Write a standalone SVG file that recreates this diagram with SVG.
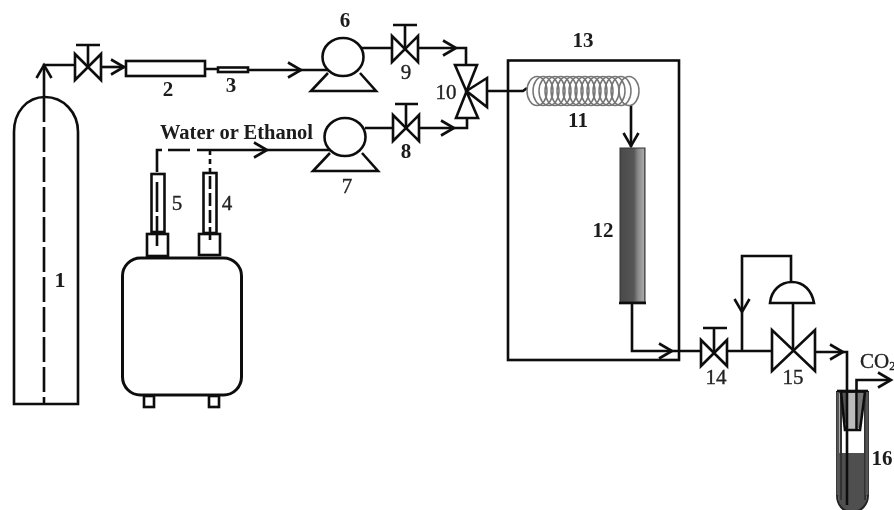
<svg xmlns="http://www.w3.org/2000/svg" width="894" height="510" viewBox="0 0 894 510">
<style>
.l{fill:none;stroke:#111;stroke-width:2.6;stroke-linejoin:miter}
.w{fill:#fff;stroke:#111;stroke-width:2.6}
.d{fill:none;stroke:#111;stroke-width:2.6;stroke-dasharray:25 5}
.a{fill:none;stroke:#111;stroke-width:2.6}
.c{fill:none;stroke:#777;stroke-width:1.5}
text{font-family:"Liberation Serif","Times New Roman",serif;fill:#1a1a1a;font-size:21px;font-weight:bold;text-anchor:middle}
text.r{font-weight:normal;fill:#222;stroke:#222;stroke-width:0.35}
</style>
<defs>
<filter id="b" x="-2%" y="-2%" width="104%" height="104%"><feGaussianBlur stdDeviation="0.45"/></filter>
<linearGradient id="col" x1="0" x2="1" y1="0" y2="0"><stop offset="0" stop-color="#4a4a4a"/><stop offset=".55" stop-color="#555"/><stop offset=".72" stop-color="#888"/><stop offset=".95" stop-color="#a8a8a8"/><stop offset="1" stop-color="#555"/></linearGradient>
<g id="valve"><path class="l" d="M-13 -13V13L13 -13V13Z"/></g>
<g id="pump"><path class="l" d="M-15 16L-32 34H33L17 16"/><ellipse class="w" cx="0" cy="0" rx="20.500" ry="19"/></g>
<path id="arr" class="a" d="M-13 -7.500L0 0L-13 7.500"/>
</defs>
<rect width="894" height="510" fill="#fff"/>
<g filter="url(#b)">
<g id="connectors">
<path class="l" d="M44 97V65H75"/><use href="#arr" transform="translate(44 65) rotate(-90)"/>
<path class="l" d="M101 67H125"/><use href="#arr" transform="translate(124 67)"/>
<path class="l" d="M205 69H218M248 70H329"/><use href="#arr" transform="translate(301 70)"/>
<path class="l" d="M361 48H392M418 48H466V65"/><use href="#arr" transform="translate(456 48)"/>
<path class="l" d="M365 128H393M420 128H467V118"/><use href="#arr" transform="translate(454 128)"/>
<path class="l" d="M487 91H523L527 88"/>
<path class="l" d="M631 105V147"/><use href="#arr" transform="translate(631 146) rotate(90)"/>
<path class="l" d="M632 302V351H700M728 351H772"/><use href="#arr" transform="translate(672 351)"/>
<path class="l" d="M742 351V256H791V282"/><use href="#arr" transform="translate(742 312) rotate(90)"/>
<path class="l" d="M793 303V350"/>
<path class="l" d="M815 352H847V391"/><use href="#arr" transform="translate(843 352)"/>
<path class="l" d="M157 172V150H162"/>
<path class="l" d="M168 150H190M197 150H331"/>
<use href="#arr" transform="translate(267 150)"/>
<path class="l" d="M210 150V172" stroke-dasharray="5 4"/>
</g>
<g id="n1"><path class="l" d="M14 404V132C14 112 27 97 45 97C63 97 78 112 78 132V404Z"/><path class="d" d="M44 97V404"/><text x="60" y="287" style="font-size:22px">1</text></g>
<g id="v-in"><use href="#valve" transform="translate(88 67)"/><path class="l" d="M88 67V45M76 45H100"/></g>
<g id="n2"><rect class="l" x="126" y="61" width="79" height="15"/><text x="168" y="96">2</text></g>
<g id="n3"><rect class="l" x="218" y="67.500" width="30" height="4.500"/><text x="231" y="92">3</text></g>
<g id="n4"><rect class="l" x="203.500" y="173" width="13" height="60"/><path class="d" style="stroke-dasharray:13 4" d="M210 176V244"/><rect class="l" x="199" y="234" width="21" height="21"/><text class="r" x="227" y="210">4</text></g>
<g id="n5"><rect class="l" x="151.500" y="174" width="13" height="58"/><path class="d" style="stroke-dasharray:30 4" d="M157 182V246"/><rect class="l" x="147" y="234" width="21" height="22"/><text class="r" x="177" y="210">5</text></g>
<g id="tank"><rect x="122.500" y="258" width="119" height="137" rx="18" fill="none" stroke="#111" stroke-width="3"/><rect class="l" x="144" y="396" width="10" height="11"/><rect class="l" x="209" y="396" width="10" height="11"/></g>
<g id="n6"><use href="#pump" transform="translate(343 57)"/><text x="345" y="27">6</text></g>
<g id="n7"><use href="#pump" transform="translate(345 137)"/><text class="r" x="347" y="193">7</text></g>
<g id="n8"><use href="#valve" transform="translate(406 128)"/><path class="l" d="M406 128V104M395 104H418"/><text x="406" y="158">8</text></g>
<g id="n9"><use href="#valve" transform="translate(405 49)"/><path class="l" d="M405 49V25M393 25H417"/><text class="r" x="406" y="79">9</text></g>
<g id="n10"><path class="l" d="M455 65H477L456 118H478ZM466.500 91L487 78V107Z"/><text class="r" x="446" y="99">10</text></g>
<g id="n11">
<ellipse class="c" cx="537" cy="91" rx="10" ry="14.500"/><ellipse class="c" cx="543" cy="91" rx="10" ry="14.500"/><ellipse class="c" cx="549" cy="91" rx="10" ry="14.500"/><ellipse class="c" cx="555" cy="91" rx="10" ry="14.500"/><ellipse class="c" cx="561" cy="91" rx="10" ry="14.500"/><ellipse class="c" cx="567" cy="91" rx="10" ry="14.500"/><ellipse class="c" cx="573" cy="91" rx="10" ry="14.500"/><ellipse class="c" cx="579" cy="91" rx="10" ry="14.500"/><ellipse class="c" cx="585" cy="91" rx="10" ry="14.500"/><ellipse class="c" cx="591" cy="91" rx="10" ry="14.500"/><ellipse class="c" cx="597" cy="91" rx="10" ry="14.500"/><ellipse class="c" cx="603" cy="91" rx="10" ry="14.500"/><ellipse class="c" cx="609" cy="91" rx="10" ry="14.500"/><ellipse class="c" cx="615" cy="91" rx="10" ry="14.500"/><ellipse class="c" cx="621" cy="91" rx="10" ry="14.500"/><ellipse class="c" cx="629" cy="91" rx="10" ry="14.500"/>
<text x="578" y="127">11</text></g>
<g id="n12"><rect x="620" y="148" width="25" height="154" fill="url(#col)" stroke="#333" stroke-width="1"/><path class="l" d="M619 303H646"/><text x="603" y="237">12</text></g>
<g id="n13"><rect class="l" x="508" y="60.500" width="171" height="299.500"/><text x="583" y="47">13</text></g>
<g id="n14"><use href="#valve" transform="translate(714 353)"/><path class="l" d="M714 353V328M703 328H727"/><text class="r" x="716" y="384">14</text></g>
<g id="n15"><path class="l" d="M772 330V371L815 330V371Z"/><path class="l" d="M770 303H814C812 291 804 282 792 282C780 282 771 291 770 303Z"/><text class="r" x="793" y="384">15</text></g>
<g id="n16">
<path d="M838 453H867V495C867 506 860 512 852 512C844 512 838 506 838 495Z" fill="#505050"/>
<path d="M846 393H858V430H846Z" fill="#bbb"/>
<path d="M840 392H847V418L844 428Z" fill="#555"/>
<path d="M858 392H865L861 428H858Z" fill="#777"/>
<path d="M837 392V495C837 505 843 512 852 512C861 512 868 505 868 495V392Z" fill="none" stroke="#222" stroke-width="2"/>
<path d="M837 391H868" class="l"/>
<path d="M841 392V500M865 392V500" fill="none" stroke="#333" stroke-width="2"/>
<path d="M838 392V495M867 392V495" fill="none" stroke="#555" stroke-width="3"/>
<path d="M841 392L845 430H860L865 392" class="w" style="fill:none"/>
<path class="l" d="M847 391V505"/>
<path class="l" d="M856.500 430V380H890"/><use href="#arr" transform="translate(891 380)"/>
<text x="882" y="465">16</text>
</g>
<g id="co2"><text class="r" x="860" y="368" style="text-anchor:start">CO<tspan font-size="12" dy="2">2</tspan></text></g>
<text x="236.500" y="139" style="font-size:20.500px">Water or Ethanol</text>
</g>
</svg>
